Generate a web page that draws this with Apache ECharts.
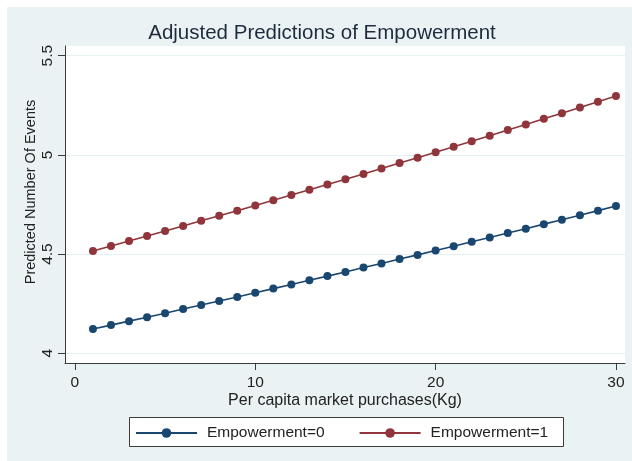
<!DOCTYPE html>
<html>
<head>
<meta charset="utf-8">
<script src="https://cdn.jsdelivr.net/npm/echarts@6/dist/echarts.min.js"></script>
<style>
  html, body { margin: 0; padding: 0; background: #ffffff; }
  #frame { position: relative; width: 632px; height: 461px; }
  #graphRegion { position: absolute; left: 7px; top: 7px; right: 0; bottom: 0; background: #EAF2F3; }
  #chart { position: absolute; left: 0; top: 0; width: 632px; height: 461px; }
</style>
</head>
<body>
<div id="frame">
  <div id="graphRegion"></div>
  <div id="chart"></div>
</div>
<script>
// Per capita market purchases (Kg)
const purchases = [1, 2, 3, 4, 5, 6, 7, 8, 9, 10, 11, 12, 13, 14, 15,
                   16, 17, 18, 19, 20, 21, 22, 23, 24, 25, 26, 27, 28, 29, 30];

// Predicted number of events, Empowerment=0
const empowerment0 = [4.122, 4.142, 4.162, 4.182, 4.202, 4.223, 4.243, 4.264, 4.284, 4.305,
                      4.326, 4.347, 4.368, 4.389, 4.410, 4.432, 4.453, 4.475, 4.496, 4.518,
                      4.540, 4.562, 4.584, 4.606, 4.628, 4.651, 4.673, 4.696, 4.719, 4.742];

// Predicted number of events, Empowerment=1
const empowerment1 = [4.516, 4.541, 4.566, 4.591, 4.616, 4.642, 4.668, 4.693, 4.719, 4.745,
                      4.771, 4.798, 4.824, 4.851, 4.877, 4.904, 4.931, 4.959, 4.986, 5.013,
                      5.041, 5.069, 5.097, 5.125, 5.153, 5.182, 5.210, 5.239, 5.268, 5.297];

const seriesNames = ['Empowerment=0', 'Empowerment=1'];
const xTicks = [0, 10, 20, 30];
const yTicks = [4, 4.5, 5, 5.5];

const FONT = '"Liberation Sans", Arial, sans-serif';
const NAVY = '#1A476F';
const MAROON = '#90353B';
const INK = '#222222';
const AXIS = '#3a3a3a';

const toPairs = (xs, ys) => xs.map((x, i) => [x, ys[i]]);

const chart = echarts.init(document.getElementById('chart'), null, { renderer: 'canvas' });

const lineSeries = (name, values, color) => ({
  name: name,
  type: 'line',
  data: toPairs(purchases, values),
  symbol: 'circle',
  symbolSize: 8,
  showSymbol: true,
  animation: false,
  lineStyle: { color: color, width: 1.6 },
  itemStyle: { color: color },
  emphasis: { disabled: true },
  z: 3
});

chart.setOption({
  animation: false,
  textStyle: { fontFamily: FONT },
  title: {
    text: 'Adjusted Predictions of Empowerment',
    left: 322,
    textAlign: 'center',
    top: 23,
    padding: 0,
    textStyle: { fontFamily: FONT, fontSize: 20.5, fontWeight: 'normal', color: '#1e2a3e' }
  },
  grid: {
    left: 65, right: 7, top: 46, bottom: 98,
    show: true,
    backgroundColor: '#ffffff',
    borderWidth: 0,
    containLabel: false,
    outerBoundsMode: 'none'
  },
  xAxis: {
    type: 'value',
    min: -0.55,
    max: 30.5,
    name: 'Per capita market purchases(Kg)',
    nameLocation: 'middle',
    nameGap: 30,
    nameMoveOverlap: false,
    nameTextStyle: { fontFamily: FONT, fontSize: 16, color: INK },
    axisLine: { show: true, onZero: false, lineStyle: { color: AXIS, width: 1 } },
    axisTick: { show: true, inside: false, length: 7, customValues: xTicks, lineStyle: { color: AXIS, width: 1 } },
    axisLabel: { customValues: xTicks, margin: 12, fontFamily: FONT, fontSize: 15.5, color: INK },
    splitLine: { show: false }
  },
  yAxis: {
    type: 'value',
    min: 3.951,
    max: 5.549,
    name: 'Predicted Number Of Events',
    nameLocation: 'middle',
    nameRotate: 90,
    nameGap: 27,
    nameMoveOverlap: false,
    nameTextStyle: { fontFamily: FONT, fontSize: 14.5, color: INK, padding: [0, 0, 0, 25] },
    axisLine: { show: true, onZero: false, lineStyle: { color: AXIS, width: 1 } },
    axisTick: { show: true, inside: false, length: 7, customValues: yTicks, lineStyle: { color: AXIS, width: 1 } },
    axisLabel: { customValues: yTicks, rotate: 90, margin: 9, fontFamily: FONT, fontSize: 15.5, color: INK },
    splitLine: { show: true, lineStyle: { color: '#E6EFF2', width: 1 } }
  },
  legend: {
    data: seriesNames,
    left: 135,
    top: 425,
    padding: 0,
    itemWidth: 61,
    itemHeight: 12,
    itemGap: 34,
    z: 5,
    selectedMode: false,
    textStyle: { fontFamily: FONT, fontSize: 15.5, color: INK, padding: [0, 0, 0, 5] }
  },
  graphic: [
    {
      type: 'rect',
      z: 1,
      shape: { x: 129.5, y: 417.5, width: 434, height: 29 },
      style: { fill: '#ffffff', stroke: '#3a3a3a', lineWidth: 1 }
    }
  ],
  series: [
    lineSeries(seriesNames[0], empowerment0, NAVY),
    lineSeries(seriesNames[1], empowerment1, MAROON)
  ]
});
</script>
</body>
</html>
